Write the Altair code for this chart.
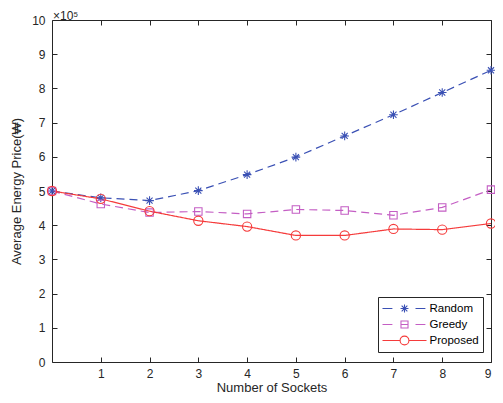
import altair as alt
import pandas as pd

sockets = [0, 1, 2, 3, 4, 5, 6, 7, 8, 9]
random_vals = [5.0, 4.80, 4.72, 5.01, 5.48, 5.99, 6.61, 7.23, 7.88, 8.53]
greedy_vals = [5.0, 4.62, 4.37, 4.40, 4.33, 4.46, 4.43, 4.29, 4.52, 5.04]
proposed_vals = [5.0, 4.77, 4.41, 4.13, 3.96, 3.70, 3.70, 3.89, 3.87, 4.05]
series_names = ["Random", "Greedy", "Proposed"]
series_colors = ["#3A50B4", "#C45EC4", "#F53B3B"]
x_ticks = [1, 2, 3, 4, 5, 6, 7, 8, 9]
y_ticks = [0, 1, 2, 3, 4, 5, 6, 7, 8, 9, 10]

rows = []
for name, vals in zip(series_names, [random_vals, greedy_vals, proposed_vals]):
    for s, v in zip(sockets, vals):
        rows.append({"sockets": s, "price": v, "series": name})
df = pd.DataFrame(rows)

FONT = "Liberation Sans"
AX = "#262626"

xscale = alt.Scale(domain=[0, 9], nice=False, zero=False)
yscale = alt.Scale(domain=[0, 10], nice=False)
cscale = alt.Scale(domain=series_names, range=series_colors)

x_label_axis = alt.Axis(orient="bottom", values=x_ticks, ticks=False, domain=False, grid=False,
                        labelPadding=6, title="Number of Sockets", titlePadding=2,
                        labelFontSize=12, titleFontSize=13, labelColor=AX, titleColor=AX,
                        labelFont=FONT, titleFont=FONT, titleFontWeight="normal")
y_label_axis = alt.Axis(orient="left", values=y_ticks, ticks=False, domain=False, grid=False,
                        labelPadding=7, title="Average Energy Price(₩)", titlePadding=8,
                        labelFontSize=12, titleFontSize=13, labelColor=AX, titleColor=AX,
                        labelFont=FONT, titleFont=FONT, titleFontWeight="normal")


def tick_axis(orient, values):
    return alt.Axis(orient=orient, offset=-5, tickSize=5, labels=False, domain=False,
                    title=None, grid=False, tickColor=AX, values=values)


base = alt.Chart(df)

asterisk = "M-1,0L1,0M0,-1L0,1M-0.7,-0.7L0.7,0.7M-0.7,0.7L0.7,-0.7"
marker_shapes = [asterisk, "square", "circle"]
marker_sizes = [75, 55, 85]
dashes = [[8, 5], [8, 5], [1, 0]]

x_axes_line = [x_label_axis, None, None]
y_axes_line = [y_label_axis, None, None]
x_axes_pts = [tick_axis("bottom", x_ticks), tick_axis("top", x_ticks), None]
y_axes_pts = [tick_axis("left", y_ticks), tick_axis("right", y_ticks), None]

layers = []
for i, name in enumerate(series_names):
    sub = base.transform_filter(alt.datum.series == name)
    layers.append(sub.mark_line(strokeWidth=1.2, color=series_colors[i],
                                strokeDash=dashes[i]).encode(
        x=alt.X("sockets:Q", scale=xscale, axis=x_axes_line[i]),
        y=alt.Y("price:Q", scale=yscale, axis=y_axes_line[i]),
    ))
for i, name in enumerate(series_names):
    sub = base.transform_filter(alt.datum.series == name)
    layers.append(sub.mark_point(shape=marker_shapes[i], size=marker_sizes[i], filled=False,
                                 strokeWidth=1.1, opacity=1, color=series_colors[i]).encode(
        x=alt.X("sockets:Q", scale=xscale, axis=x_axes_pts[i]),
        y=alt.Y("price:Q", scale=yscale, axis=y_axes_pts[i]),
    ))

leg_random = ("M-1,0L-0.55,0M0.5,0L0.95,0"
              "M-0.18,0L0.18,0M0,-0.18L0,0.18M-0.13,-0.13L0.13,0.13M-0.13,0.13L0.13,-0.13")
leg_greedy = ("M-1,0L-0.55,0M-0.16,0L0.16,0M0.5,0L0.95,0"
              "M-0.16,-0.16L0.16,-0.16L0.16,0.16L-0.16,0.16Z")
leg_proposed = ("M-1,0L-0.2,0M0.2,0L1,0"
                "M0.2,0A0.2,0.2 0 1,1 -0.2,0A0.2,0.2 0 1,1 0.2,0")

legend_props = dict(orient="none", legendX=326, legendY=277, title=None,
                    symbolSize=1936, clipHeight=16, rowPadding=0, symbolOpacity=1,
                    symbolStrokeWidth=1.1, labelFontSize=11.5, labelFont=FONT,
                    labelColor="#000000", labelOffset=2,
                    strokeColor="#262626", fillColor="white",
                    padding=3.5, cornerRadius=0)

legend_layer = base.mark_point(filled=False, opacity=0).encode(
    x=alt.X("sockets:Q", scale=xscale, axis=None),
    y=alt.Y("price:Q", scale=yscale, axis=None),
    color=alt.Color("series:N", scale=cscale, title=None, legend=alt.Legend(**legend_props)),
    shape=alt.Shape("series:N", scale=alt.Scale(domain=series_names,
                                               range=[leg_random, leg_greedy, leg_proposed]),
                    title=None, legend=alt.Legend(**legend_props)),
)
layers.append(legend_layer)

chart = alt.layer(*layers).resolve_axis(
    x="independent", y="independent"
).properties(
    width=439, height=342,
    padding={"left": 44, "top": 12, "right": 4, "bottom": 33},
    autosize=alt.AutoSizeParams(type="none"),
    background="white",
    title=alt.TitleParams("×10⁵", anchor="start", frame="group", fontSize=12,
                          fontWeight="normal", font=FONT, color=AX, offset=3, dx=1, dy=12),
).configure_view(stroke=AX, strokeWidth=1)

chart.save("out.html", embed_options={"renderer": "svg", "actions": False})
